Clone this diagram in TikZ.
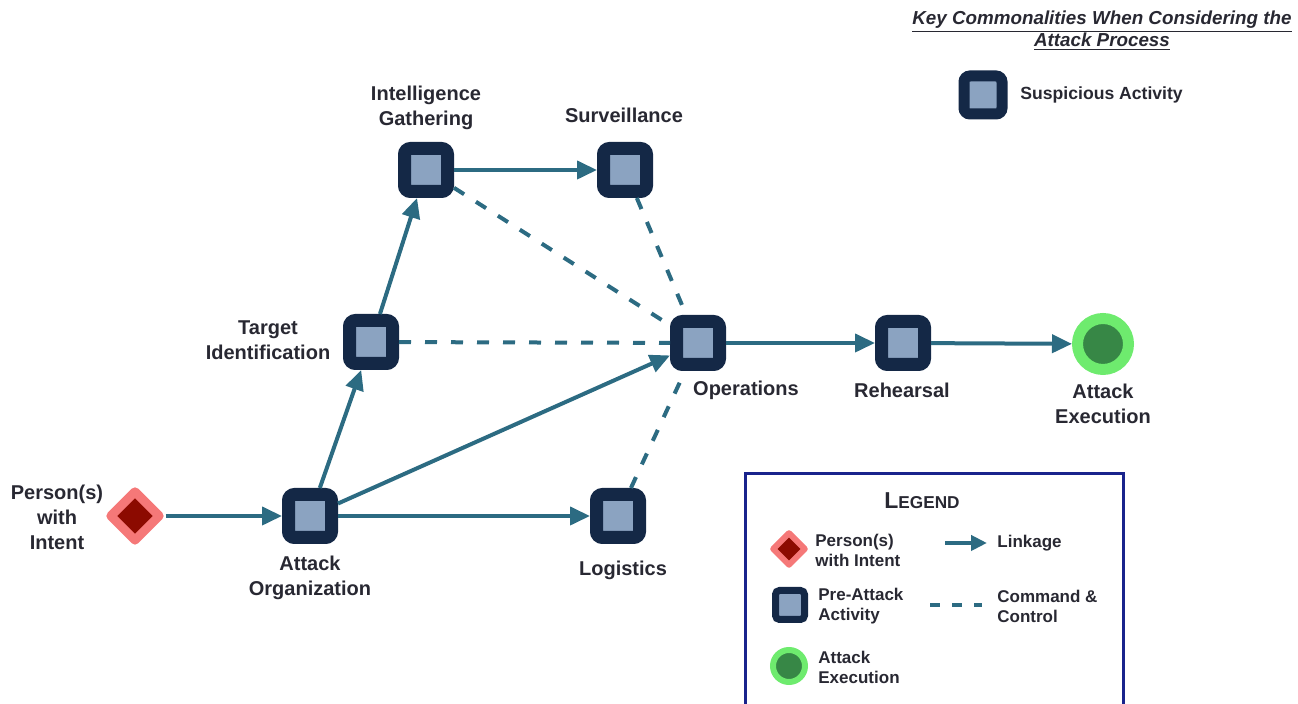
\documentclass[tikz,border=0pt]{standalone}
\usepackage{fontspec}
\setmainfont{Liberation Sans}
\usetikzlibrary{shapes.geometric,arrows.meta}
\definecolor{teal}{RGB}{44,107,130}
\definecolor{navy}{RGB}{20,40,70}
\definecolor{lightblue}{RGB}{139,163,193}
\definecolor{salmon}{RGB}{245,120,120}
\definecolor{darkred}{RGB}{140,10,0}
\definecolor{greenlight}{RGB}{110,235,110}
\definecolor{greendark}{RGB}{55,135,70}
\definecolor{legborder}{RGB}{25,35,140}
\definecolor{txt}{RGB}{40,40,50}
\begin{document}
\begin{tikzpicture}[x=0.5pt,y=-0.5pt,
  pre/.style={draw=navy, fill=lightblue, line width=6.5pt, minimum size=21.5pt, rounded corners=3pt, inner sep=0pt},
  presmall/.style={draw=navy, fill=lightblue, line width=3.5pt, minimum size=14.5pt, rounded corners=2pt, inner sep=0pt},
  person/.style={diamond, draw=salmon, fill=darkred, line width=4.5pt, minimum size=26pt, inner sep=0pt, line join=round},
  personsmall/.style={diamond, draw=salmon, fill=darkred, line width=3pt, minimum size=17pt, inner sep=0pt, line join=round},
  exec/.style={circle, draw=greenlight, fill=greendark, line width=5.5pt, minimum size=25.5pt, inner sep=0pt},
  execsmall/.style={circle, draw=greenlight, fill=greendark, line width=3pt, minimum size=16pt, inner sep=0pt},
  link/.style={draw=teal, line width=2pt, -{Triangle[length=10pt,width=9pt]}},
  cc/.style={draw=teal, line width=2pt, dash pattern=on 6pt off 7pt},
  lbl/.style={font=\bfseries\fontsize{10}{12.5}\selectfont, text=txt, align=center, inner sep=0pt},
  leg/.style={font=\bfseries\fontsize{8.5}{10}\selectfont, text=txt, align=left, inner sep=0pt, anchor=west}
]
\useasboundingbox (0,0) rectangle (1298,704);

% main nodes
\node[person] (per) at (135,516) {};
\node[pre] (org) at (310,516) {};
\node[pre] (tgt) at (371,342) {};
\node[pre] (int) at (426,170) {};
\node[pre] (sur) at (625,170) {};
\node[pre] (ops) at (698,343) {};
\node[pre] (reh) at (903,343) {};
\node[pre] (log) at (618,516) {};
\node[exec] (exe) at (1103,344) {};

% labels
\node[lbl] (lper) at (57,517) {Person(s)\\with\\Intent};
\node[lbl] (lorg) at (310,578) {Attack\\Organization};
\node[lbl] (ltgt) at (268,340) {Target\\Identification};
\node[lbl] (lint) at (426,108) {Intelligence\\Gathering};
\node[lbl] (lsur) at (624,115) {Surveillance};
\node[lbl] (lops) at (746,390) {Operations};
\node[lbl] (lreh) at (902,390) {Rehearsal};
\node[lbl] (lexe) at (1103,404) {Attack\\Execution};
\node[lbl] (llog) at (623,570) {Logistics};

% connectors
\draw[link] (per) -- (org);
\draw[link] (org) -- (tgt);
\draw[link] (tgt) -- (int);
\draw[link] (int) -- (sur);
\draw[link] (org) -- (ops);
\draw[link] (org) -- (log);
\draw[link] (ops) -- (reh);
\draw[link] (reh) -- (exe);
\draw[cc] (int) -- (ops);
\draw[cc] (sur) -- (ops);
\draw[cc] (tgt) -- (ops);
\draw[cc] (log) -- (ops);

% title
\node[font=\bfseries\itshape\fontsize{9.4}{11}\selectfont, text=txt, align=center, inner sep=0pt] (title) at (1102,31)
  {\underline{Key Commonalities When Considering the}\\\underline{Attack Process}};
\node[pre, minimum size=19pt, line width=5.5pt] (sus) at (983,95) {};
\node[font=\bfseries\fontsize{8.8}{10}\selectfont, text=txt, inner sep=0pt, anchor=west] (lsus) at (1020,95) {Suspicious Activity};

% legend
\draw[legborder, line width=1.5pt] (745,710) -- (745,474) -- (1123,474) -- (1123,710);
\node[font=\bfseries, text=txt, inner sep=0pt] (legt) at (922,501)
  {{\fontsize{11.5}{12}\selectfont L}{\fontsize{8.6}{10}\selectfont EGEND}};
\node[personsmall] (lg1) at (789,549) {};
\node[leg] (lg1t) at (815,550) {Person(s)\\with Intent};
\node[presmall] (lg2) at (790,605) {};
\node[leg] (lg2t) at (818,606) {Pre-Attack\\Activity};
\node[execsmall] (lg3) at (789,666) {};
\node[leg] (lg3t) at (818,667) {Attack\\Execution};
\coordinate (la1) at (945,543);
\coordinate (la2) at (987,543);
\draw[link, -{Triangle[length=8pt,width=7.5pt]}] (la1) -- (la2);
\node[leg] (lg4t) at (997,543) {Linkage};
\coordinate (lc1) at (930,605);
\coordinate (lc2) at (982,605);
\draw[cc, dash pattern=on 5pt off 6pt] (lc1) -- (lc2);
\node[leg] (lg5t) at (997,606) {Command \&\\Control};
\end{tikzpicture}
\end{document}
